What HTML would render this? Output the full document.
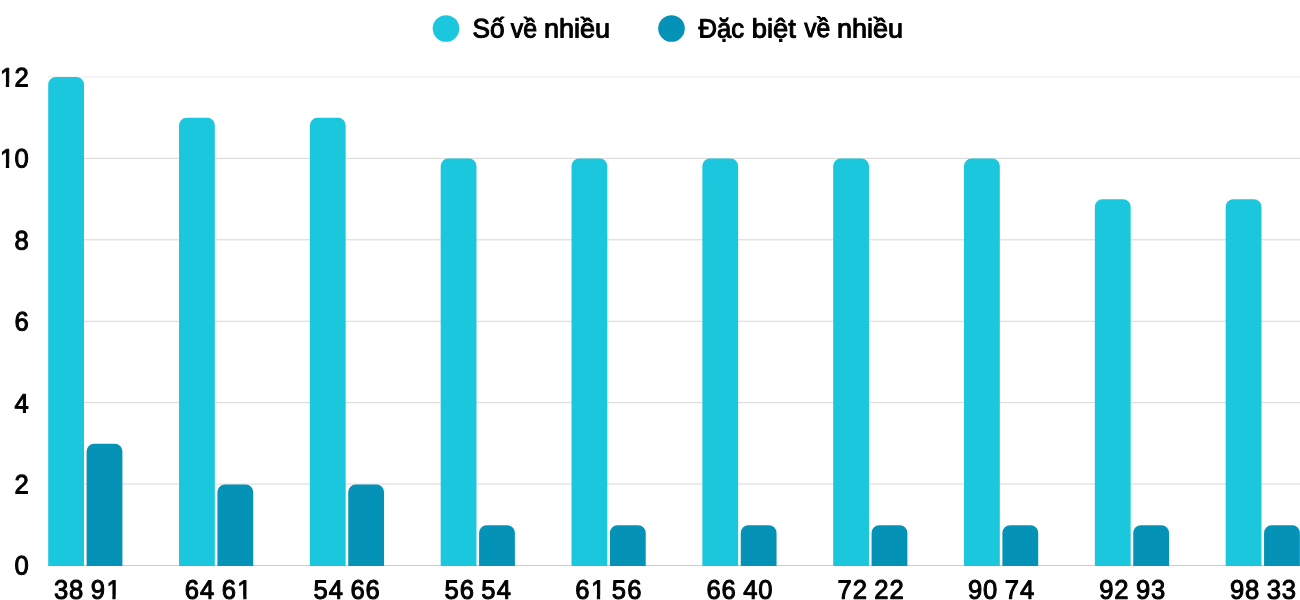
<!DOCTYPE html>
<html><head><meta charset="utf-8"><title>Chart</title>
<style>html,body{margin:0;padding:0;background:#fff;overflow:hidden}body{width:1300px;height:600px;font-family:"Liberation Sans",sans-serif}</style>
</head><body>
<svg width="1300" height="600" viewBox="0 0 1300 600" style="display:block;will-change:transform">
<rect width="1300" height="600" fill="#fff"/>
<rect x="48" y="565.00" width="1252" height="1" fill="#cccccc"/>
<rect x="48" y="483.58" width="1252" height="1" fill="#d7d7d7"/>
<rect x="48" y="402.16" width="1252" height="1" fill="#d7d7d7"/>
<rect x="48" y="320.74" width="1252" height="1" fill="#d7d7d7"/>
<rect x="48" y="239.32" width="1252" height="1" fill="#d7d7d7"/>
<rect x="48" y="157.90" width="1252" height="1" fill="#d7d7d7"/>
<rect x="48" y="76.48" width="1252" height="1" fill="#eaeaea"/>
<path d="M48.20,566.00 V84.50 A7.5,7.5 0 0 1 55.70,77.00 H76.50 A7.5,7.5 0 0 1 84.00,84.50 V566.00 Z" fill="#1bc7dc"/>
<path d="M86.60,566.00 V451.25 A7.5,7.5 0 0 1 94.10,443.75 H114.90 A7.5,7.5 0 0 1 122.40,451.25 V566.00 Z" fill="#0492b7"/>
<path d="M179.03,566.00 V125.25 A7.5,7.5 0 0 1 186.53,117.75 H207.33 A7.5,7.5 0 0 1 214.83,125.25 V566.00 Z" fill="#1bc7dc"/>
<path d="M217.43,566.00 V492.00 A7.5,7.5 0 0 1 224.93,484.50 H245.73 A7.5,7.5 0 0 1 253.23,492.00 V566.00 Z" fill="#0492b7"/>
<path d="M309.86,566.00 V125.25 A7.5,7.5 0 0 1 317.36,117.75 H338.16 A7.5,7.5 0 0 1 345.66,125.25 V566.00 Z" fill="#1bc7dc"/>
<path d="M348.26,566.00 V492.00 A7.5,7.5 0 0 1 355.76,484.50 H376.56 A7.5,7.5 0 0 1 384.06,492.00 V566.00 Z" fill="#0492b7"/>
<path d="M440.69,566.00 V166.00 A7.5,7.5 0 0 1 448.19,158.50 H468.99 A7.5,7.5 0 0 1 476.49,166.00 V566.00 Z" fill="#1bc7dc"/>
<path d="M479.09,566.00 V532.75 A7.5,7.5 0 0 1 486.59,525.25 H507.39 A7.5,7.5 0 0 1 514.89,532.75 V566.00 Z" fill="#0492b7"/>
<path d="M571.52,566.00 V166.00 A7.5,7.5 0 0 1 579.02,158.50 H599.82 A7.5,7.5 0 0 1 607.32,166.00 V566.00 Z" fill="#1bc7dc"/>
<path d="M609.92,566.00 V532.75 A7.5,7.5 0 0 1 617.42,525.25 H638.22 A7.5,7.5 0 0 1 645.72,532.75 V566.00 Z" fill="#0492b7"/>
<path d="M702.35,566.00 V166.00 A7.5,7.5 0 0 1 709.85,158.50 H730.65 A7.5,7.5 0 0 1 738.15,166.00 V566.00 Z" fill="#1bc7dc"/>
<path d="M740.75,566.00 V532.75 A7.5,7.5 0 0 1 748.25,525.25 H769.05 A7.5,7.5 0 0 1 776.55,532.75 V566.00 Z" fill="#0492b7"/>
<path d="M833.18,566.00 V166.00 A7.5,7.5 0 0 1 840.68,158.50 H861.48 A7.5,7.5 0 0 1 868.98,166.00 V566.00 Z" fill="#1bc7dc"/>
<path d="M871.58,566.00 V532.75 A7.5,7.5 0 0 1 879.08,525.25 H899.88 A7.5,7.5 0 0 1 907.38,532.75 V566.00 Z" fill="#0492b7"/>
<path d="M964.01,566.00 V166.00 A7.5,7.5 0 0 1 971.51,158.50 H992.31 A7.5,7.5 0 0 1 999.81,166.00 V566.00 Z" fill="#1bc7dc"/>
<path d="M1002.41,566.00 V532.75 A7.5,7.5 0 0 1 1009.91,525.25 H1030.71 A7.5,7.5 0 0 1 1038.21,532.75 V566.00 Z" fill="#0492b7"/>
<path d="M1094.84,566.00 V206.75 A7.5,7.5 0 0 1 1102.34,199.25 H1123.14 A7.5,7.5 0 0 1 1130.64,206.75 V566.00 Z" fill="#1bc7dc"/>
<path d="M1133.24,566.00 V532.75 A7.5,7.5 0 0 1 1140.74,525.25 H1161.54 A7.5,7.5 0 0 1 1169.04,532.75 V566.00 Z" fill="#0492b7"/>
<path d="M1225.67,566.00 V206.75 A7.5,7.5 0 0 1 1233.17,199.25 H1253.97 A7.5,7.5 0 0 1 1261.47,206.75 V566.00 Z" fill="#1bc7dc"/>
<path d="M1264.07,566.00 V532.75 A7.5,7.5 0 0 1 1271.57,525.25 H1292.37 A7.5,7.5 0 0 1 1299.87,532.75 V566.00 Z" fill="#0492b7"/>
<circle cx="446" cy="28.5" r="13.3" fill="#1bc7dc"/>
<circle cx="671.5" cy="28.5" r="13.3" fill="#0492b7"/>
<g font-family="Liberation Sans, sans-serif" font-size="26.67" fill="#000" stroke="#000" stroke-width="1.05" stroke-linejoin="round" text-rendering="geometricPrecision">
<text transform="translate(472.61,37.40) rotate(0.03) scale(0.9812,1)">Số</text>
<text transform="translate(510.77,37.40) rotate(0.03) scale(0.9357,1)">về</text>
<text transform="translate(543.93,37.40) rotate(0.03) scale(1.0151,1)">nhiều</text>
<text transform="translate(698.54,37.40) rotate(0.03) scale(0.9621,1)">Đặc</text>
<text transform="translate(751.72,37.40) rotate(0.03) scale(1.0238,1)">biệt</text>
<text transform="translate(804.26,37.40) rotate(0.03) scale(0.9250,1)">về</text>
<text transform="translate(836.94,37.40) rotate(0.03) scale(1.0120,1)">nhiều</text>
<text transform="translate(53.50,598.80) rotate(0.03) scale(0.96,1)" x="0.49 16.25 31.46 38.82 55.14" y="0">38 91</text>
<text transform="translate(184.40,598.80) rotate(0.03) scale(0.96,1)" x="0.47 16.34 31.46 38.80 55.14" y="0">64 61</text>
<text transform="translate(313.15,598.80) rotate(0.03) scale(0.96,1)" x="0.28 16.34 31.46 38.80 54.53" y="0">54 66</text>
<text transform="translate(444.20,598.80) rotate(0.03) scale(0.96,1)" x="0.28 16.20 31.46 38.61 54.68" y="0">56 54</text>
<text transform="translate(574.80,598.80) rotate(0.03) scale(0.96,1)" x="0.47 16.80 31.46 38.61 54.53" y="0">61 56</text>
<text transform="translate(705.95,598.80) rotate(0.03) scale(0.96,1)" x="0.47 16.20 31.46 38.95 54.55" y="0">66 40</text>
<text transform="translate(837.10,598.80) rotate(0.03) scale(0.96,1)" x="0.49 16.22 31.46 38.82 54.55" y="0">72 22</text>
<text transform="translate(967.45,598.80) rotate(0.03) scale(0.96,1)" x="0.49 16.22 31.46 38.82 54.68" y="0">90 74</text>
<text transform="translate(1098.70,598.80) rotate(0.03) scale(0.96,1)" x="0.49 16.22 31.46 38.82 54.55" y="0">92 93</text>
<text transform="translate(1229.50,598.80) rotate(0.03) scale(0.96,1)" x="0.49 16.25 31.46 38.82 54.55" y="0">98 33</text>
<text transform="translate(-1.10,86.50) rotate(0.03) scale(0.96,1)" x="1.08 16.22" y="0">12</text>
<text transform="translate(-1.10,167.50) rotate(0.03) scale(0.96,1)" x="1.08 16.22" y="0">10</text>
<text transform="translate(14.00,249.50) rotate(0.03) scale(0.96,1)" x="0.52" y="0">8</text>
<text transform="translate(14.00,330.50) rotate(0.03) scale(0.96,1)" x="0.47" y="0">6</text>
<text transform="translate(14.00,412.50) rotate(0.03) scale(0.96,1)" x="0.61" y="0">4</text>
<text transform="translate(14.00,493.60) rotate(0.03) scale(0.96,1)" x="0.49" y="0">2</text>
<text transform="translate(14.00,574.60) rotate(0.03) scale(0.96,1)" x="0.49" y="0">0</text>
</g>
<rect x="107.30" y="595.40" width="5.04" height="4.5" fill="#fff"/>
<rect x="115.65" y="595.40" width="4.99" height="4.5" fill="#fff"/>
<rect x="238.20" y="595.40" width="5.04" height="4.5" fill="#fff"/>
<rect x="246.55" y="595.40" width="4.99" height="4.5" fill="#fff"/>
<rect x="591.80" y="595.40" width="5.04" height="4.5" fill="#fff"/>
<rect x="600.15" y="595.40" width="4.99" height="4.5" fill="#fff"/>
<rect x="0.80" y="83.10" width="5.04" height="4.5" fill="#fff"/>
<rect x="9.15" y="83.10" width="4.99" height="4.5" fill="#fff"/>
<rect x="0.80" y="164.10" width="5.04" height="4.5" fill="#fff"/>
<rect x="9.15" y="164.10" width="4.99" height="4.5" fill="#fff"/>
</svg>
</body></html>
